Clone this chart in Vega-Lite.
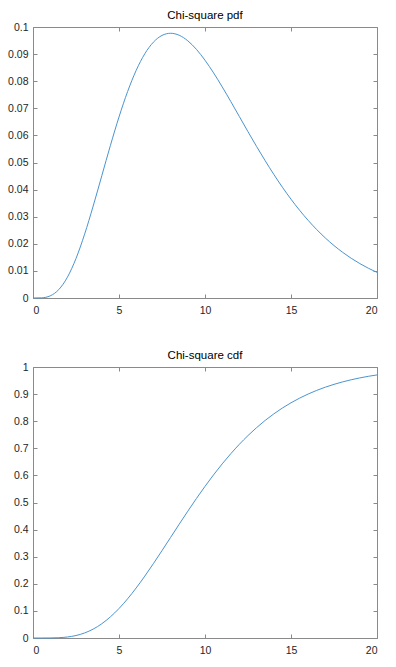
{
  "$schema": "https://vega.github.io/schema/vega-lite/v6.json",
  "padding": {"left": 7, "top": 9, "right": 5, "bottom": 5},
  "bounds": "flush",
  "spacing": 69,
  "config": {
    "font": "Liberation Sans",
    "view": {"stroke": null},
    "axis": {
      "grid": false,
      "title": null,
      "domainColor": "#8a8a8a",
      "domainWidth": 1,
      "tickColor": "#8a8a8a",
      "tickWidth": 1,
      "tickSize": -4,
      "labelFont": "Liberation Sans",
      "labelFontSize": 10.5,
      "labelColor": "#262626"
    },
    "axisX": {"labelPadding": 11},
    "axisY": {"labelPadding": 9},
    "title": {"font": "Liberation Sans", "fontSize": 11.5, "fontWeight": "normal", "color": "#000000"}
  },
  "data": {
    "values": [
      {"x": 0, "pdf": 0, "cdf": 0},
      {"x": 0.5, "pdf": 0.0000634, "cdf": 0.0000016},
      {"x": 1, "pdf": 0.00079, "cdf": 0.000172},
      {"x": 1.5, "pdf": 0.003114, "cdf": 0.001063},
      {"x": 2, "pdf": 0.007664, "cdf": 0.00366},
      {"x": 2.5, "pdf": 0.014572, "cdf": 0.009124},
      {"x": 3, "pdf": 0.023533, "cdf": 0.018576},
      {"x": 3.5, "pdf": 0.033954, "cdf": 0.032901},
      {"x": 4, "pdf": 0.045112, "cdf": 0.052653},
      {"x": 4.5, "pdf": 0.056276, "cdf": 0.078016},
      {"x": 5, "pdf": 0.066801, "cdf": 0.108821},
      {"x": 5.5, "pdf": 0.076169, "cdf": 0.14462},
      {"x": 6, "pdf": 0.084016, "cdf": 0.184736},
      {"x": 6.5, "pdf": 0.090122, "cdf": 0.228347},
      {"x": 7, "pdf": 0.094405, "cdf": 0.274555},
      {"x": 7.5, "pdf": 0.096891, "cdf": 0.322451},
      {"x": 8, "pdf": 0.097685, "cdf": 0.371163},
      {"x": 8.5, "pdf": 0.096952, "cdf": 0.419883},
      {"x": 9, "pdf": 0.094904, "cdf": 0.467896},
      {"x": 9.5, "pdf": 0.091759, "cdf": 0.514602},
      {"x": 10, "pdf": 0.087734, "cdf": 0.559507},
      {"x": 10.5, "pdf": 0.08306, "cdf": 0.602226},
      {"x": 11, "pdf": 0.077914, "cdf": 0.642482},
      {"x": 11.5, "pdf": 0.072488, "cdf": 0.680086},
      {"x": 12, "pdf": 0.066933, "cdf": 0.714944},
      {"x": 12.5, "pdf": 0.061353, "cdf": 0.747015},
      {"x": 13, "pdf": 0.055895, "cdf": 0.776328},
      {"x": 13.5, "pdf": 0.050644, "cdf": 0.802956},
      {"x": 14, "pdf": 0.045613, "cdf": 0.827008},
      {"x": 14.5, "pdf": 0.040877, "cdf": 0.848619},
      {"x": 15, "pdf": 0.036458, "cdf": 0.867938},
      {"x": 15.5, "pdf": 0.032373, "cdf": 0.885132},
      {"x": 16, "pdf": 0.028626, "cdf": 0.900368},
      {"x": 16.5, "pdf": 0.025214, "cdf": 0.913814},
      {"x": 17, "pdf": 0.022127, "cdf": 0.925636},
      {"x": 17.5, "pdf": 0.019352, "cdf": 0.935993},
      {"x": 18, "pdf": 0.016869, "cdf": 0.945036},
      {"x": 18.5, "pdf": 0.014659, "cdf": 0.952907},
      {"x": 19, "pdf": 0.012702, "cdf": 0.959737},
      {"x": 19.5, "pdf": 0.010975, "cdf": 0.965647},
      {"x": 20, "pdf": 0.009458, "cdf": 0.970747}
    ]
  },
  "vconcat": [
    {
      "title": {"text": "Chi-square pdf", "offset": 1, "frame": "group"},
      "width": 344,
      "height": 271,
      "layer": [
        {
          "mark": {"type": "line", "color": "#4a94d0", "strokeWidth": 1, "interpolate": "monotone"},
          "encoding": {
            "x": {"field": "x", "type": "quantitative", "scale": {"domain": [0, 20], "nice": false, "zero": false},
                  "axis": {"orient": "bottom", "values": [0, 5, 10, 15, 20]}},
            "y": {"field": "pdf", "type": "quantitative", "scale": {"domain": [0, 0.1], "nice": false},
                  "axis": {"orient": "left", "values": [0, 0.01, 0.02, 0.03, 0.04, 0.05, 0.06, 0.07, 0.08, 0.09, 0.1], "format": "~g"}}
          }
        },
        {
          "mark": {"type": "line", "opacity": 0},
          "encoding": {
            "x": {"field": "x", "type": "quantitative", "scale": {"domain": [0, 20], "nice": false, "zero": false},
                  "axis": {"orient": "top", "values": [0, 5, 10, 15, 20], "labels": false}},
            "y": {"field": "pdf", "type": "quantitative", "scale": {"domain": [0, 0.1], "nice": false},
                  "axis": {"orient": "right", "values": [0, 0.01, 0.02, 0.03, 0.04, 0.05, 0.06, 0.07, 0.08, 0.09, 0.1], "labels": false}}
          }
        }
      ],
      "resolve": {"axis": {"x": "independent", "y": "independent"}}
    },
    {
      "title": {"text": "Chi-square cdf", "offset": 1, "frame": "group"},
      "width": 344,
      "height": 271,
      "layer": [
        {
          "mark": {"type": "line", "color": "#4a94d0", "strokeWidth": 1, "interpolate": "monotone"},
          "encoding": {
            "x": {"field": "x", "type": "quantitative", "scale": {"domain": [0, 20], "nice": false, "zero": false},
                  "axis": {"orient": "bottom", "values": [0, 5, 10, 15, 20]}},
            "y": {"field": "cdf", "type": "quantitative", "scale": {"domain": [0, 1], "nice": false},
                  "axis": {"orient": "left", "values": [0, 0.1, 0.2, 0.3, 0.4, 0.5, 0.6, 0.7, 0.8, 0.9, 1], "format": "~g"}}
          }
        },
        {
          "mark": {"type": "line", "opacity": 0},
          "encoding": {
            "x": {"field": "x", "type": "quantitative", "scale": {"domain": [0, 20], "nice": false, "zero": false},
                  "axis": {"orient": "top", "values": [0, 5, 10, 15, 20], "labels": false}},
            "y": {"field": "cdf", "type": "quantitative", "scale": {"domain": [0, 1], "nice": false},
                  "axis": {"orient": "right", "values": [0, 0.1, 0.2, 0.3, 0.4, 0.5, 0.6, 0.7, 0.8, 0.9, 1], "labels": false}}
          }
        }
      ],
      "resolve": {"axis": {"x": "independent", "y": "independent"}}
    }
  ]
}
